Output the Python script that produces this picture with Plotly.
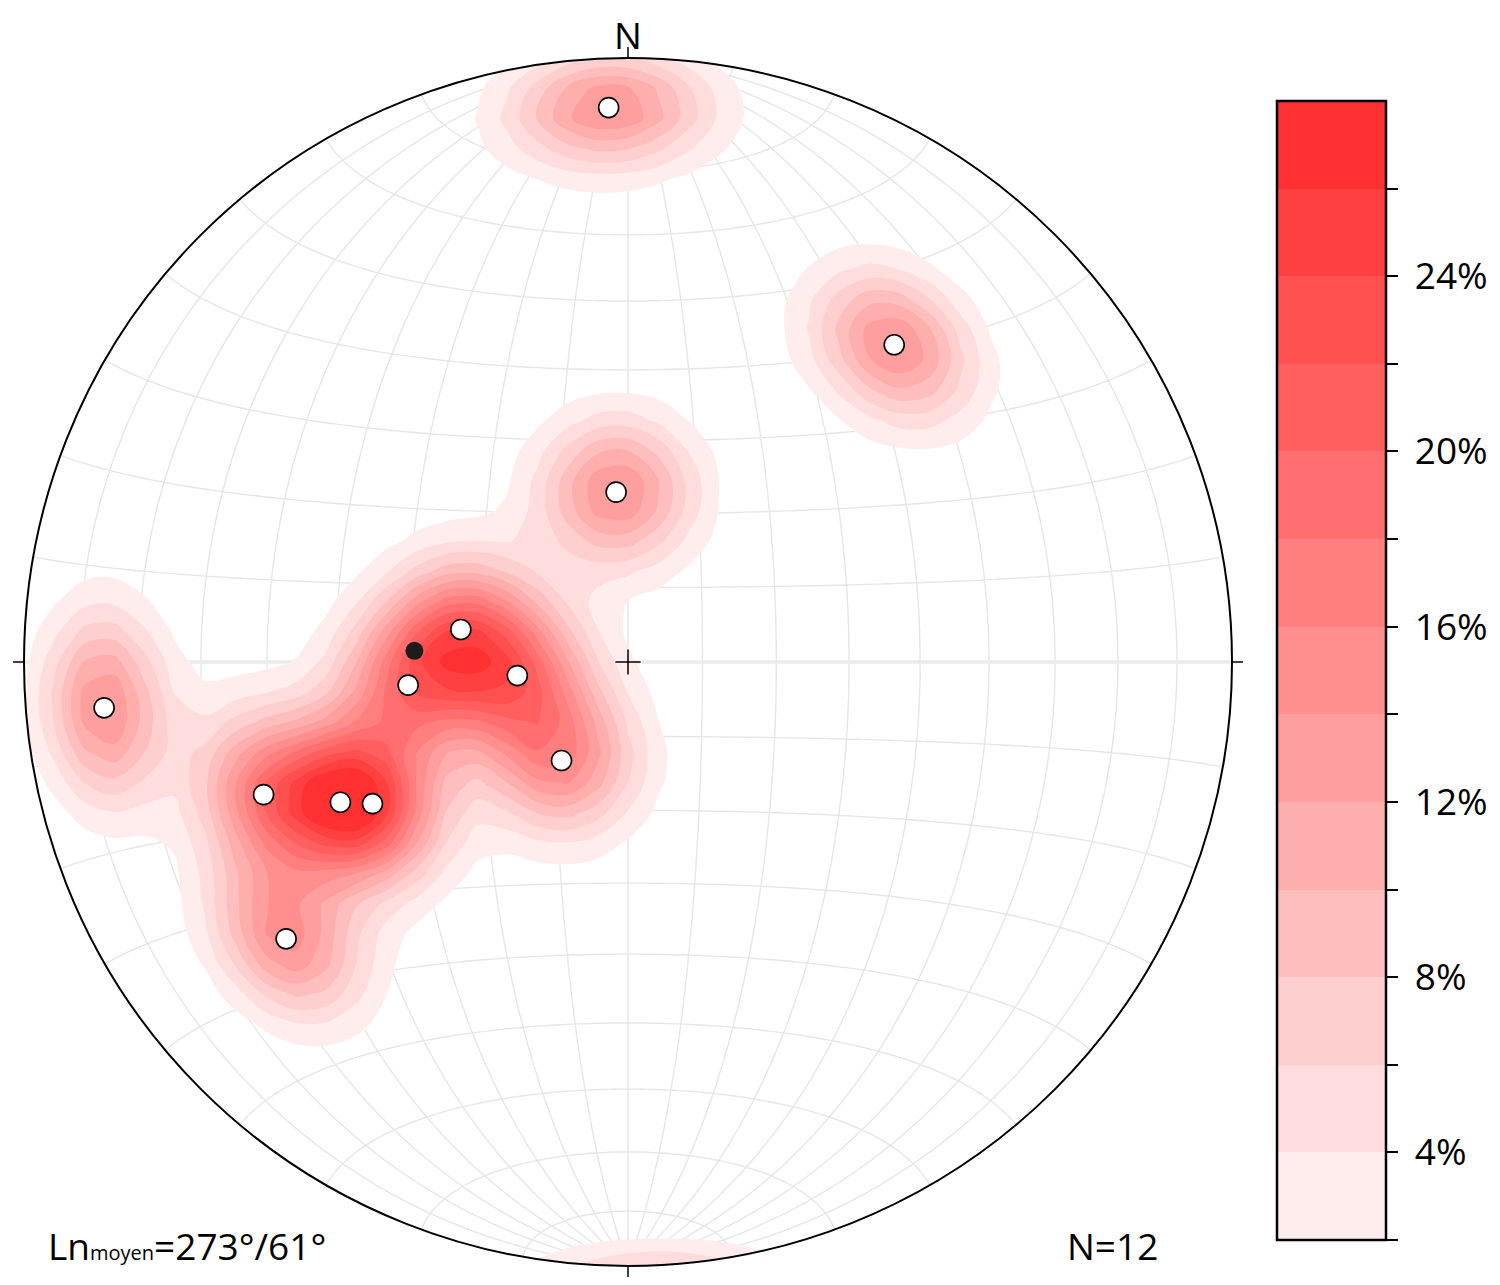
import numpy as np
import plotly.graph_objects as go

# lineations (trend / plunge, degrees)
trends = [358, 40, 356, 281, 263, 264, 214, 265, 250, 244, 241, 231]
plunges = [9, 32, 67, 67, 75, 60, 74, 14, 36, 46, 50, 28]
mean_trend = 273
mean_plunge = 61

# density levels (%) and band colours
levels = list(range(2, 30, 2))
band_colors = ['rgb(255,%d,%d)' % (v, v) for v in
               [237, 221, 206, 190, 174, 158, 143, 127, 111, 95, 80, 64, 48]]
tick_vals = list(range(2, 27, 2))
tick_text = [' %d%%' % v if v % 4 == 0 else '' for v in tick_vals]

W, H = 1484, 1269          # page adds an 8px body margin
CX, CY = 620, 654          # centre of the net in figure pixels
R_PX = 604.0
FONT = 'Open Sans'


def to_xyz(trend, plunge):
    t = np.radians(np.asarray(trend, float))
    p = np.radians(np.asarray(plunge, float))
    return np.cos(p) * np.cos(t), np.cos(p) * np.sin(t), np.sin(p)


def project(n, e, d):
    # equal-area (Schmidt), lower hemisphere
    s = np.sqrt(1 + d)
    return e / s, n / s


# --- density on a coarse grid (axial exponential kernel) ---
g = np.linspace(-1.05, 1.05, 43)
X, Y = np.meshgrid(g, g)
r2 = X ** 2 + Y ** 2
rho2 = np.minimum(r2, 1.99)
gd = 1 - rho2
gs = np.sqrt(2 - rho2)
gn, ge = Y * gs, X * gs
vn, ve, vd = to_xyz(trends, plunges)
k = 70.0
C = 14.5
Z = np.zeros_like(X)
for a, b, c in zip(vn, ve, vd):
    cosang = np.abs(gn * a + ge * b + gd * c)
    Z += np.exp(k * (cosang - 1))
Z = C * Z
Z[r2 > 1.1 ** 2] = 0
Z = np.round(Z, 3)

# --- net grid (drawn as shapes so it sits under the density) ---
def polyline(x, y):
    return 'M' + ' L'.join('%.4f,%.4f' % (a, b) for a, b in zip(x, y))


lam = np.linspace(0, np.pi, 121)
paths = []
for dip in range(10, 91, 10):
    dr = np.radians(dip)
    for sgn in ((1, -1) if dip < 90 else (1,)):
        x, y = project(np.cos(lam), sgn * np.sin(lam) * np.cos(dr), np.sin(lam) * np.sin(dr))
        paths.append(polyline(x, y))
for cone in range(10, 90, 10):
    cr = np.radians(cone)
    for sgn in (1, -1):
        x, y = project(sgn * np.cos(cr) + 0 * lam, np.sin(cr) * np.cos(lam), np.sin(cr) * np.sin(lam))
        paths.append(polyline(x, y))

shapes = [
    dict(type='path', path=' '.join(paths), line=dict(color='#e6e6e6', width=1.4), layer='below'),
    dict(type='line', x0=-1, y0=0, x1=1, y1=0, line=dict(color='#ebebeb', width=3.5), layer='below'),
]

fig = go.Figure()

scale = [[0, 'rgba(255,255,255,0)']]
for i, c in enumerate(band_colors):
    scale.append([(i + 1) / 13, c])
fig.add_trace(go.Contour(
    x=g, y=g, z=Z,
    colorscale=scale,
    contours=dict(start=levels[0], end=levels[-2], size=2, coloring='fill', showlines=False),
    line=dict(width=0),
    showscale=False,
    hoverinfo='skip',
))

# colorbar carried by an invisible marker trace
bar_scale = []
for i, c in enumerate(band_colors):
    bar_scale += [[i / 13, c], [(i + 1) / 13, c]]
fig.add_trace(go.Scatter(
    x=[0], y=[0], mode='markers', hoverinfo='skip',
    marker=dict(size=1, opacity=0, color=[levels[0]], cmin=levels[0], cmax=levels[-1],
                colorscale=bar_scale, showscale=True,
                colorbar=dict(x=1269 / W, xanchor='left', xpad=0,
                              y=37 / H, yanchor='bottom', ypad=0,
                              len=1139 / H, lenmode='fraction',
                              thickness=109, thicknessmode='pixels',
                              outlinewidth=2.5, outlinecolor='black',
                              ticks='outside', ticklen=11, tickwidth=1.5, tickcolor='black',
                              tickvals=tick_vals, ticktext=tick_text,
                              tickfont=dict(family=FONT, size=37, color='black'))),
))

fig.add_trace(go.Scatter(x=[0], y=[0], mode='markers', hoverinfo='skip',
                         marker=dict(symbol='cross-thin', size=18,
                                     line=dict(color='black', width=1.5))))

px_, py_ = project(*to_xyz(trends, plunges))
fig.add_trace(go.Scatter(x=px_, y=py_, mode='markers', hoverinfo='skip',
                         marker=dict(size=20, color='white', line=dict(color='black', width=1.6))))
mx, my = project(*to_xyz([mean_trend], [mean_plunge]))
fig.add_trace(go.Scatter(x=mx, y=my, mode='markers', hoverinfo='skip',
                         marker=dict(size=18, color='#1c1c1c')))

# white ring masking density outside the primitive
th = np.linspace(0, 2 * np.pi, 181)
outer = ' L'.join('%.4f,%.4f' % (1.25 * np.cos(a), 1.25 * np.sin(a)) for a in th)
inner = ' L'.join('%.4f,%.4f' % (np.cos(a), -np.sin(a)) for a in th)
shapes.append(dict(type='path', path='M' + outer + ' Z M' + inner + ' Z', fillcolor='white',
                   line=dict(width=0), layer='above'))
shapes.append(dict(type='circle', x0=-1, y0=-1, x1=1, y1=1, line=dict(color='black', width=2),
                   layer='above'))
tl = 11 / R_PX
for cx, cy, ex, ey in [(0, 1, 0, 1 + tl), (0, -1, 0, -1 - tl), (1, 0, 1 + tl, 0), (-1, 0, -1 - tl, 0)]:
    shapes.append(dict(type='line', x0=cx, y0=cy, x1=ex, y1=ey, line=dict(color='black', width=1.5),
                       layer='above'))

fig.update_layout(
    width=W, height=H,
    margin=dict(l=0, r=0, t=0, b=0),
    paper_bgcolor='white', plot_bgcolor='white',
    showlegend=False,
    xaxis=dict(range=[-CX / R_PX, (W - CX) / R_PX], visible=False, fixedrange=True),
    yaxis=dict(range=[-(H - CY) / R_PX, CY / R_PX], visible=False, fixedrange=True),
    shapes=shapes,
    annotations=[
        dict(x=0, y=CY / R_PX, text='N', showarrow=False, yanchor='top', borderpad=0,
             font=dict(family=FONT, size=37, color='black')),
        dict(x=38 / W, y=32 / H, xref='paper', yref='paper', xanchor='left', yanchor='middle',
             showarrow=False,
             text="Ln<span style='font-size:20px'>moyen</span>=%d°/%d°" % (mean_trend, mean_plunge),
             font=dict(family=FONT, size=37, color='black')),
        dict(x=1057 / W, y=32 / H, xref='paper', yref='paper', xanchor='left', yanchor='middle',
             showarrow=False, text='N=%d' % len(trends),
             font=dict(family=FONT, size=37, color='black')),
    ],
)

fig.write_html('out.html')
